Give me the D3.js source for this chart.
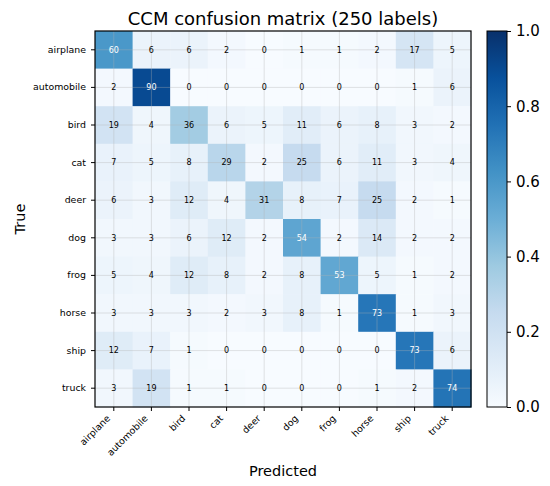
<!DOCTYPE html>
<html lang="en">
<head>
    <meta charset="UTF-8">
    <title>CCM confusion matrix</title>
    <script src="https://d3js.org/d3.v7.min.js"></script>
    <style>
        body { margin: 0; background: #fff; }
        text { font-family: "DejaVu Sans", sans-serif; }
    </style>
</head>
<body>
    <svg width="550" height="486"></svg>
    <script>
        var labels = ["airplane","automobile","bird","cat","deer","dog","frog","horse","ship","truck"];
        var airplane   = [60, 6, 6, 2, 0, 1, 1, 2,17, 5];
        var automobile = [ 2,90, 0, 0, 0, 0, 0, 0, 1, 6];
        var bird       = [19, 4,36, 6, 5,11, 6, 8, 3, 2];
        var cat        = [ 7, 5, 8,29, 2,25, 6,11, 3, 4];
        var deer       = [ 6, 3,12, 4,31, 8, 7,25, 2, 1];
        var dog        = [ 3, 3, 6,12, 2,54, 2,14, 2, 2];
        var frog       = [ 5, 4,12, 8, 2, 8,53, 5, 1, 2];
        var horse      = [ 3, 3, 3, 2, 3, 8, 1,73, 1, 3];
        var ship       = [12, 7, 1, 0, 0, 0, 0, 0,73, 6];
        var truck      = [ 3,19, 1, 1, 0, 0, 0, 1, 2,74];
        var rows = [airplane, automobile, bird, cat, deer, dog, frog, horse, ship, truck];
        var cbarTicks = [0, 0.2, 0.4, 0.6, 0.8, 1.0];

        var svg = d3.select("svg");
        // note: "top" is taken by window.top, so use mTop
        var mLeft = 95, mTop = 31, size = 376;

        // matplotlib "Blues"
        var blues = ["#f7fbff","#deebf7","#c6dbef","#9ecae1","#6baed6","#4292c6","#2171b5","#08519c","#08306b"];
        var color = d3.scaleLinear()
            .domain(d3.range(9).map(function(i){ return i/8; }))
            .range(blues);

        var x = d3.scaleBand().domain(labels).range([mLeft, mLeft+size]);
        var y = d3.scaleBand().domain(labels).range([mTop, mTop+size]);

        var cells = [];
        rows.forEach(function(r, i){
            r.forEach(function(v, j){
                cells.push({row: labels[i], col: labels[j], v: v});
            });
        });

        svg.append("g").selectAll("rect")
            .data(cells)
            .enter()
            .append("rect")
            .attr("x", function(d){ return x(d.col); })
            .attr("y", function(d){ return y(d.row); })
            .attr("width", x.bandwidth()+0.5)
            .attr("height", y.bandwidth()+0.5)
            .attr("fill", function(d){ return color(d.v/100); });

        // grid through the cell centres
        var grid = svg.append("g")
            .attr("stroke", "#b0b0b0")
            .attr("stroke-opacity", 0.45)
            .attr("stroke-width", 0.8);
        grid.selectAll(".gx").data(labels).enter().append("line")
            .attr("x1", function(d){ return x(d)+x.bandwidth()/2; })
            .attr("x2", function(d){ return x(d)+x.bandwidth()/2; })
            .attr("y1", mTop).attr("y2", mTop+size);
        grid.selectAll(".gy").data(labels).enter().append("line")
            .attr("y1", function(d){ return y(d)+y.bandwidth()/2; })
            .attr("y2", function(d){ return y(d)+y.bandwidth()/2; })
            .attr("x1", mLeft).attr("x2", mLeft+size);

        svg.append("g").selectAll("text")
            .data(cells)
            .enter()
            .append("text")
            .attr("x", function(d){ return x(d.col)+x.bandwidth()/2; })
            .attr("y", function(d){ return y(d.row)+y.bandwidth()/2; })
            .attr("dy", "0.35em")
            .attr("text-anchor", "middle")
            .attr("font-size", 8)
            .attr("fill", function(d){ return d.v > 45 ? "#fff" : "#000"; })
            .text(function(d){ return d.v; });

        svg.append("rect")
            .attr("x", mLeft).attr("y", mTop)
            .attr("width", size).attr("height", size)
            .attr("fill", "none").attr("stroke", "#000").attr("stroke-width", 1.2);

        // Axes
        var yAxis = svg.append("g")
            .attr("transform", "translate("+mLeft+",0)")
            .call(d3.axisLeft(y).tickSize(4).tickPadding(5));
        yAxis.select(".domain").remove();
        yAxis.selectAll("text").attr("font-size", 9.4).attr("fill", "#000");

        var xAxis = svg.append("g")
            .attr("transform", "translate(0,"+(mTop+size)+")")
            .call(d3.axisBottom(x).tickSize(4).tickPadding(5));
        xAxis.select(".domain").remove();
        xAxis.selectAll("text")
            .attr("font-size", 9.4)
            .attr("fill", "#000")
            .attr("text-anchor", "end")
            .attr("dy", null)
            .attr("y", 0)
            .attr("x", 0)
            .attr("transform", "translate(-3,12) rotate(-45)");

        svg.append("text")
            .attr("x", mLeft+size/2).attr("y", 25)
            .attr("text-anchor", "middle")
            .attr("font-size", 18)
            .text("CCM confusion matrix (250 labels)");
        svg.append("text")
            .attr("x", mLeft+size/2).attr("y", 476)
            .attr("text-anchor", "middle")
            .attr("font-size", 14.5)
            .text("Predicted");
        svg.append("text")
            .attr("transform", "translate(25,"+(mTop+size/2)+") rotate(-90)")
            .attr("text-anchor", "middle")
            .attr("font-size", 14.5)
            .text("True");

        // Colorbar
        var cbX = 487, cbW = 20;
        var defs = svg.append("defs");
        var grad = defs.append("linearGradient")
            .attr("id", "cb").attr("x1", 0).attr("y1", 1).attr("x2", 0).attr("y2", 0);
        grad.selectAll("stop").data(blues).enter().append("stop")
            .attr("offset", function(d, i){ return i/8; })
            .attr("stop-color", function(d){ return d; });
        svg.append("rect")
            .attr("x", cbX).attr("y", mTop)
            .attr("width", cbW).attr("height", size)
            .attr("fill", "url(#cb)")
            .attr("stroke", "#000").attr("stroke-width", 1);
        var cScale = d3.scaleLinear().domain([0, 1]).range([mTop+size, mTop]);
        var cAxis = svg.append("g")
            .attr("transform", "translate("+(cbX+cbW)+",0)")
            .call(d3.axisRight(cScale).tickValues(cbarTicks).tickFormat(d3.format(".1f")).tickSize(4).tickPadding(5));
        cAxis.select(".domain").remove();
        cAxis.selectAll("text").attr("font-size", 15).attr("fill", "#000");
    </script>
</body>
</html>
